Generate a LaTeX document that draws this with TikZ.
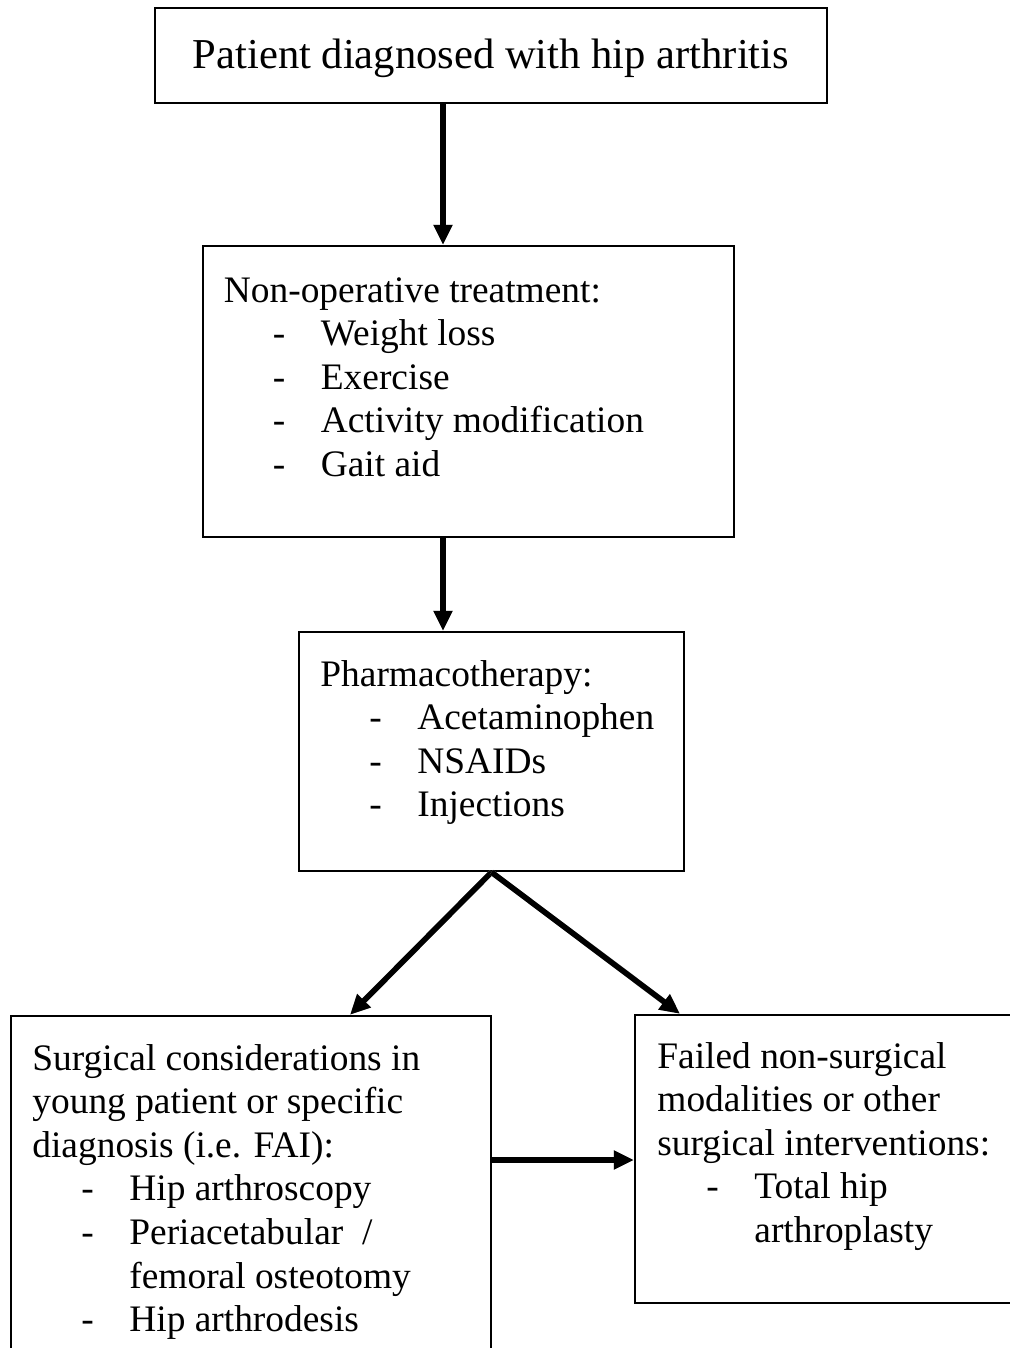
\documentclass[tikz,border=0pt]{standalone}
\usepackage{fontspec}
\setmainfont{Liberation Serif}
\usetikzlibrary{arrows.meta}
\newcommand{\itm}[1]{\hspace*{24.5pt}\makebox[24pt][l]{-}#1}
\newcommand{\cont}[1]{\hspace*{48.5pt}#1}
\begin{document}
\begin{tikzpicture}[x=0.5pt,y=-0.5pt,
  boxstyle/.style={draw, line width=1.2pt, inner sep=0pt},
  txt/.style={anchor=base west, inner sep=0pt, font=\fontsize{18.7pt}{21.8pt}\selectfont},
  arr/.style={line width=2.8pt, -{Triangle[length=10pt,width=9pt]}},
  shad/.style={line width=2.8pt, draw=gray!45, fill=gray!45, -{Triangle[length=10pt,width=9pt]}, shift={(0.8pt,-0.8pt)}}]
\useasboundingbox (0,0) rectangle (1010,1348);
\clip (0,0) rectangle (1010,1348);
\fill[white] (0,0) rectangle (1010,1348);

% boxes
\node[boxstyle, minimum width=336pt, minimum height=47.5pt] (b1) at (491,55.5) {};
\node[boxstyle, minimum width=265.5pt, minimum height=145.5pt] (b2) at (468.5,391.5) {};
\node[boxstyle, minimum width=192.5pt, minimum height=119.5pt] (b3) at (491.5,751.5) {};
\node[boxstyle, minimum width=240pt, minimum height=192pt] (b4) at (251,1208) {};
\node[boxstyle, minimum width=212.5pt, minimum height=144pt] (b5) at (847.5,1159) {};

% texts
\node[anchor=base, inner sep=0pt, font=\fontsize{21.3pt}{24pt}\selectfont] (t1) at (491,68.5) {Patient diagnosed with hip arthritis};
\node[txt] (t2) at (223.5,302) {\begin{tabular}[t]{@{}l@{}}Non-operative treatment:\\ \itm{Weight loss}\\ \itm{Exercise}\\ \itm{Activity modification}\\ \itm{Gait aid}\end{tabular}};
\node[txt] (t3) at (320,686) {\begin{tabular}[t]{@{}l@{}}Pharmacotherapy:\\ \itm{Acetaminophen}\\ \itm{NSAIDs}\\ \itm{Injections}\end{tabular}};
\node[txt] (t4) at (32,1070) {\begin{tabular}[t]{@{}l@{}}Surgical considerations in\\ young patient or specific\\ diagnosis (i.e. FAI):\\ \itm{Hip arthroscopy}\\ \itm{Periacetabular\ \ /}\\ \cont{femoral osteotomy}\\ \itm{Hip arthrodesis}\end{tabular}};
\node[txt] (t5) at (657,1068) {\begin{tabular}[t]{@{}l@{}}Failed non-surgical\\ modalities or other\\ surgical interventions:\\ \itm{Total hip}\\ \cont{arthroplasty}\end{tabular}};

% connectors
\coordinate (ax) at (443,0);
\coordinate (lx) at (350,0);
\coordinate (rx) at (680,0);
\coordinate (hy) at (0,1160);
\draw[shad] (b1.south -| ax) -- (b2.north -| ax);
\draw[arr] (b1.south -| ax) -- (b2.north -| ax);
\draw[shad] (b2.south -| ax) -- (b3.north -| ax);
\draw[arr] (b2.south -| ax) -- (b3.north -| ax);
\draw[shad] (b3.south) -- (b4.north -| lx);
\draw[arr] (b3.south) -- (b4.north -| lx);
\draw[shad] (b3.south) -- (b5.north -| rx);
\draw[arr] (b3.south) -- (b5.north -| rx);
\draw[shad] (b4.east |- hy) -- (b5.west |- hy);
\draw[arr] (b4.east |- hy) -- (b5.west |- hy);
\end{tikzpicture}
\end{document}
